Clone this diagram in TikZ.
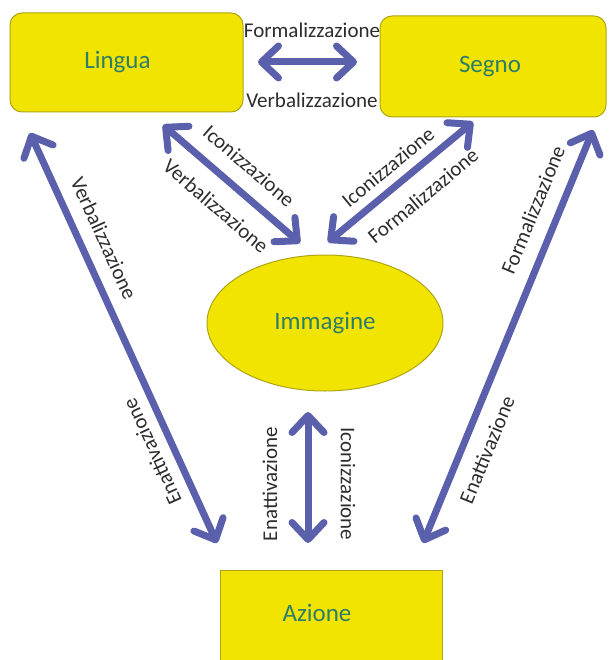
\documentclass[tikz,border=0pt]{standalone}
\usepackage{fontspec}
\setmainfont{Carlito}
\usetikzlibrary{arrows.meta,shapes.geometric}
\definecolor{arrowblue}{RGB}{90,96,172}
\definecolor{boxyellow}{RGB}{240,228,0}
\definecolor{boxedge}{RGB}{175,165,20}
\definecolor{nodetext}{RGB}{45,125,105}
\definecolor{labeltext}{RGB}{45,45,45}
\begin{document}
\begin{tikzpicture}[x=1pt,y=-1pt,
  box/.style={draw=boxedge, line width=1pt, fill=boxyellow, text=nodetext,
    font=\fontsize{25}{30}\selectfont, inner sep=0pt},
  conn/.style={draw=arrowblue, line width=7pt,
    {Straight Barb[length=17pt,width=32pt,round]}-{Straight Barb[length=17pt,width=32pt,round]}},
  lab/.style={text=labeltext, font=\fontsize{21}{24}\selectfont, inner sep=0pt}]
\clip (0,0) rectangle (608,660);
\fill[white] (0,0) rectangle (608,660);

% nodes
\node[box, rounded corners=12pt, minimum width=233pt, minimum height=99pt] (lingua) at (126.5,62.5) {Lingua\hspace*{18pt}};
\node[box, rounded corners=12pt, minimum width=226pt, minimum height=101pt] (segno) at (493,66.5) {Segno\hspace*{6pt}};
\node[box, ellipse, minimum width=236pt, minimum height=136pt] (imm) at (325,323) {Immagine};
\node[box, minimum width=222pt, minimum height=100pt, anchor=north west] (azione) at (220,570) {};
\node[text=nodetext, font=\fontsize{25}{30}\selectfont, inner sep=0pt] (azt) at (317,613) {Azione};

% arrow end points
\coordinate (h1) at (258,62);  \coordinate (h2) at (357,62);
\coordinate (li1) at (163,125); \coordinate (li2) at (300,243);
\coordinate (si1) at (473,122); \coordinate (si2) at (328,242);
\coordinate (la1) at (30,133);  \coordinate (la2) at (217,543);
\coordinate (ra1) at (593,130); \coordinate (ra2) at (423,543);
\coordinate (v1) at (308,412);  \coordinate (v2) at (308,543);

% connectors
\draw[conn] (h1) -- (h2);
\draw[conn] (li1) -- (li2);
\draw[conn] (si1) -- (si2);
\draw[conn] (la1) -- (la2);
\draw[conn] (ra1) -- (ra2);
\draw[conn] (v1) -- (v2);

% labels
\node[lab] (t1) at (312,30) {Formalizzazione};
\node[lab] (t2) at (312,100) {Verbalizzazione};
\node[lab, rotate=-40.7] (t3) at (249,166) {Iconizzazione};
\node[lab, rotate=-40.7] (t4) at (216,206) {Verbalizzazione};
\node[lab, rotate=39.6] (t5) at (388,167) {Iconizzazione};
\node[lab, rotate=39.6] (t6) at (423,196) {Formalizzazione};
\node[lab, rotate=-65.5] (t7) at (104,238) {Verbalizzazione};
\node[lab, rotate=114.5] (t8) at (152,452) {Enattivazione};
\node[lab, rotate=67.6] (t9) at (533,210) {Formalizzazione};
\node[lab, rotate=67.6] (t10) at (487,450) {Enattivazione};
\node[lab, rotate=90] (t11) at (270,484) {Enattivazione};
\node[lab, rotate=-90] (t12) at (348,484) {Iconizzazione};
\end{tikzpicture}
\end{document}
